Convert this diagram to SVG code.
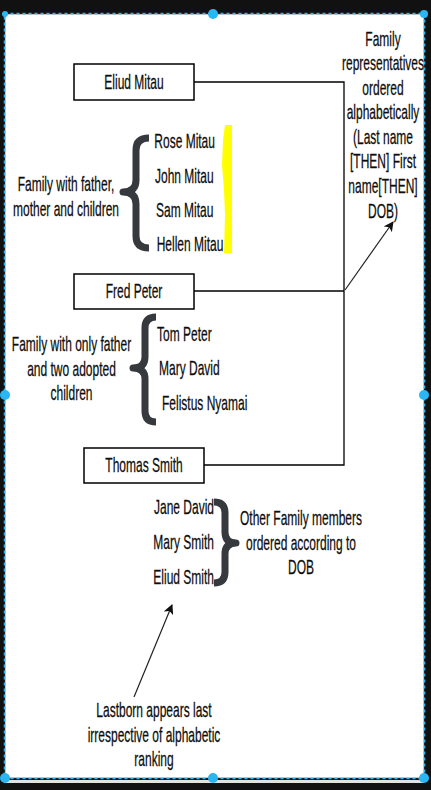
<svg xmlns="http://www.w3.org/2000/svg" width="431" height="790" viewBox="0 0 431 790">
<defs>
<style>
.t{font-family:"Liberation Sans",Arial,sans-serif;font-size:12px;fill:#0d0d0d;stroke:#0d0d0d;stroke-width:0.15}
.m{text-anchor:middle}
.e{text-anchor:end}
.box{fill:#fff;stroke:#000;stroke-width:1.5}
.ln{fill:none;stroke:#000;stroke-width:1.3}
.ar{fill:none;stroke:#222;stroke-width:1.2}
.br{fill:none;stroke:#36393d;stroke-width:7;stroke-linejoin:round;stroke-linecap:butt}
.h{fill:#29b6f2}
</style>
<marker id="arr" viewBox="0 0 10 10" refX="9" refY="5" markerWidth="10" markerHeight="10" markerUnits="userSpaceOnUse" orient="auto">
<path d="M0,0 L10,5 L0,10 L2.5,5 Z" fill="#111"/>
</marker>
</defs>
<rect x="0" y="0" width="431" height="790" fill="#111111"/>
<rect x="4" y="780" width="420" height="3" fill="#e2e2e2"/>
<rect x="4" y="13" width="421" height="766" fill="#ffffff"/>
<rect x="4.5" y="13.5" width="420" height="765" fill="none" stroke="#222" stroke-width="1.5"/>
<rect x="4.5" y="13.5" width="420" height="765" fill="none" stroke="#29b6f2" stroke-width="1.5" stroke-dasharray="3 3"/>

<g id="connectors">
<path class="ln" d="M194,82 H344 V465 H204"/>
<path class="ln" d="M194,291 H344"/>
<path class="ar" d="M345,290 L393,222" marker-end="url(#arr)"/>
<path class="ar" d="M134,697 L172,605" marker-end="url(#arr)"/>
</g>

<g id="eliud-mitau">
<rect class="box" x="74" y="64" width="120" height="36"/>
<text class="t m" transform="translate(134 89) scale(1 1.72)">Eliud Mitau</text>
</g>
<g id="fred-peter">
<rect class="box" x="74" y="274" width="120" height="35"/>
<text class="t m" transform="translate(134 298) scale(1 1.72)">Fred Peter</text>
</g>
<g id="thomas-smith">
<rect class="box" x="84" y="448" width="120" height="35"/>
<text class="t m" transform="translate(144 472) scale(1 1.72)">Thomas Smith</text>
</g>

<g id="note-representatives">
<text class="t m" transform="translate(383 45.5) scale(1 1.72)"><tspan x="0">Family</tspan><tspan x="0" dy="14.3">representatives</tspan><tspan x="0" dy="14.3">ordered</tspan><tspan x="0" dy="14.3">alphabetically</tspan><tspan x="0" dy="14.3">(Last name</tspan><tspan x="0" dy="14.3">[THEN] First</tspan><tspan x="0" dy="14.3">name[THEN]</tspan><tspan x="0" dy="14.3">DOB)</tspan></text>
</g>

<g id="family1-label">
<text class="t m" transform="translate(66 191) scale(1 1.72)"><tspan x="0">Family with father,</tspan><tspan x="0" dy="14.3">mother and children</tspan></text>
</g>
<g id="family1-brace">
<path class="br" d="M149,138 Q136,138 136,150 L136,180 Q136,192 123,192 Q136,192 136,204 L136,236 Q136,248 149,248"/>
</g>
<g id="family1-highlight">
<path d="M225,125 L232,125 L232,253 L224,253 L225,215 L224,190 L222,165 L223,140 Z" fill="#ffff00"/>
</g>
<g id="family1-members">
<text class="t" transform="translate(154.3 148.3) scale(1 1.72)">Rose Mitau</text>
<text class="t" transform="translate(155 183.3) scale(1 1.72)">John Mitau</text>
<text class="t" transform="translate(156 216.8) scale(1 1.72)">Sam Mitau</text>
<text class="t" transform="translate(156.7 250.8) scale(1 1.72)">Hellen Mitau</text>
</g>

<g id="family2-label">
<text class="t m" transform="translate(71.5 351) scale(1 1.72)"><tspan x="0">Family with only father</tspan><tspan x="0" dy="14.3">and two adopted</tspan><tspan x="0" dy="14.3">children</tspan></text>
</g>
<g id="family2-brace">
<path class="br" d="M156,317 Q145,317 145,328 L145,357 Q145,368 133,368 Q145,368 145,379 L145,411 Q145,422 156,422"/>
</g>
<g id="family2-members">
<text class="t" transform="translate(157 340.5) scale(1 1.72)">Tom Peter</text>
<text class="t" transform="translate(159 375) scale(1 1.72)">Mary David</text>
<text class="t" transform="translate(162 409.5) scale(1 1.72)">Felistus Nyamai</text>
</g>

<g id="family3-members">
<text class="t e" transform="translate(214 514) scale(1 1.72)">Jane David</text>
<text class="t e" transform="translate(214 549) scale(1 1.72)">Mary Smith</text>
<text class="t e" transform="translate(214 583.5) scale(1 1.72)">Eliud Smith</text>
</g>
<g id="family3-brace">
<path class="br" d="M214,502 Q225,502 225,513 L225,532 Q225,543 236,543 Q225,543 225,554 L225,572 Q225,583 214,583"/>
</g>
<g id="family3-label">
<text class="t m" transform="translate(301 525) scale(1 1.72)"><tspan x="0">Other Family members</tspan><tspan x="0" dy="14.3">ordered according to</tspan><tspan x="0" dy="14.3">DOB</tspan></text>
</g>

<g id="lastborn-note">
<text class="t m" transform="translate(154 717) scale(1 1.72)"><tspan x="0">Lastborn appears last</tspan><tspan x="0" dy="14.3">irrespective of alphabetic</tspan><tspan x="0" dy="14.3">ranking</tspan></text>
</g>

<g id="handles">
<circle class="h" cx="213" cy="14" r="5"/>
<circle class="h" cx="424" cy="14" r="4"/>
<circle class="h" cx="5" cy="14" r="3"/>
<circle class="h" cx="5" cy="395" r="5"/>
<circle class="h" cx="424" cy="395" r="5"/>
<circle class="h" cx="5" cy="778" r="5"/>
<circle class="h" cx="213" cy="778" r="5"/>
<circle class="h" cx="424" cy="778" r="5"/>
</g>
</svg>
